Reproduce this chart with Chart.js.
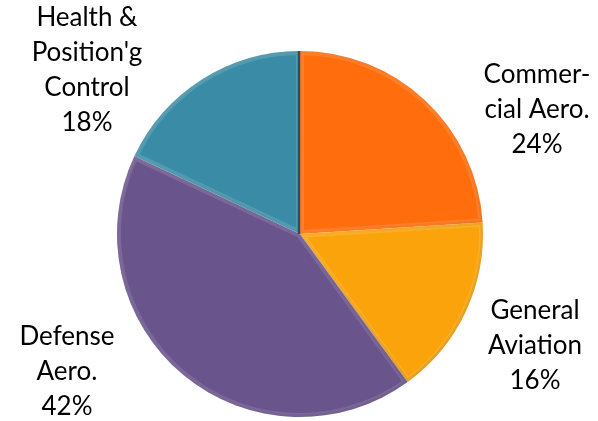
<!DOCTYPE html>
<html>
<head>
<meta charset="utf-8">
<script src="https://cdn.jsdelivr.net/npm/chart.js@4/dist/chart.umd.min.js"></script>
<style>
  html, body { margin: 0; padding: 0; background: #ffffff; }
  #wrap { width: 598px; height: 421px; position: relative; }
</style>
</head>
<body>
<div id="wrap"><canvas id="pie"></canvas></div>
<script>
// Market segments, clockwise from 12 o'clock
const segments = ["Commercial Aero.", "General Aviation", "Defense Aero.", "Health & Position'g Control"];
const shares = [24, 16, 42, 18];
// Multi-line label text for each slice
const labelLines = [
  ["Commer-", "cial Aero.", "24%"],
  ["General", "Aviation", "16%"],
  ["Defense", "Aero.", "42%"],
  ["Health &", "Position'g", "Control", "18%"]
];
const sliceColors = ["#ff6d0c", "#fba30a", "#69548c", "#3a8ca6"];

// Label anchors (centre of first line), as canvas pixel positions
const labelAnchors = [
  { x: 537, y: 75 },
  { x: 535, y: 311 },
  { x: 67, y: 337 },
  { x: 87, y: 18 }
];
const lineHeight = 35;

// Soft bevel: light rim inside each slice, darker toward the lower right
const bevelPlugin = {
  id: 'bevel',
  afterDatasetDraw(chart) {
    const ctx = chart.ctx;
    const meta = chart.getDatasetMeta(0);
    meta.data.forEach((arc) => {
      const { x, y, startAngle, endAngle, outerRadius } = arc.getProps(['x', 'y', 'startAngle', 'endAngle', 'outerRadius'], true);
      ctx.save();
      ctx.beginPath();
      ctx.moveTo(x, y);
      ctx.arc(x, y, outerRadius, startAngle, endAngle);
      ctx.closePath();
      ctx.clip();
      ctx.lineJoin = 'round';
      // light rim
      ctx.strokeStyle = 'rgba(255,255,255,0.12)';
      ctx.lineWidth = 8;
      ctx.stroke();
      // directional shading
      const g = ctx.createLinearGradient(x - outerRadius, y - outerRadius, x + outerRadius, y + outerRadius);
      g.addColorStop(0, 'rgba(255,255,255,0.12)');
      g.addColorStop(0.5, 'rgba(0,0,0,0)');
      g.addColorStop(1, 'rgba(0,0,0,0.12)');
      ctx.lineWidth = 5;
      ctx.strokeStyle = g;
      ctx.stroke();
      ctx.restore();
    });
    // shadow line along the 12 o'clock seam
    const first = meta.data[0];
    const p = first.getProps(['x', 'y', 'startAngle', 'outerRadius'], true);
    ctx.save();
    ctx.strokeStyle = 'rgba(20,60,75,0.75)';
    ctx.lineWidth = 2.5;
    ctx.beginPath();
    ctx.moveTo(p.x - 1, p.y);
    ctx.lineTo(p.x - 1 + Math.cos(p.startAngle) * p.outerRadius, p.y + Math.sin(p.startAngle) * p.outerRadius);
    ctx.stroke();
    ctx.restore();
  }
};

// Outside labels with each slice's text
const labelPlugin = {
  id: 'sliceLabels',
  afterDraw(chart) {
    const ctx = chart.ctx;
    ctx.save();
    ctx.fillStyle = '#000000';
    ctx.font = '26px Lato';
    ctx.textAlign = 'center';
    ctx.textBaseline = 'middle';
    labelLines.forEach((lines, i) => {
      const a = labelAnchors[i];
      lines.forEach((t, k) => ctx.fillText(t, a.x, a.y + k * lineHeight));
    });
    ctx.restore();
  }
};

new Chart(document.getElementById('pie'), {
  type: 'pie',
  data: {
    labels: segments,
    datasets: [{
      data: shares,
      backgroundColor: sliceColors,
      borderWidth: 0
    }]
  },
  options: {
    responsive: true,
    maintainAspectRatio: false,
    animation: false,
    layout: { padding: { top: 51, bottom: 4, left: 2, right: 0 } },
    plugins: {
      legend: { display: false },
      tooltip: { enabled: false }
    }
  },
  plugins: [bevelPlugin, labelPlugin]
});
</script>
</body>
</html>
